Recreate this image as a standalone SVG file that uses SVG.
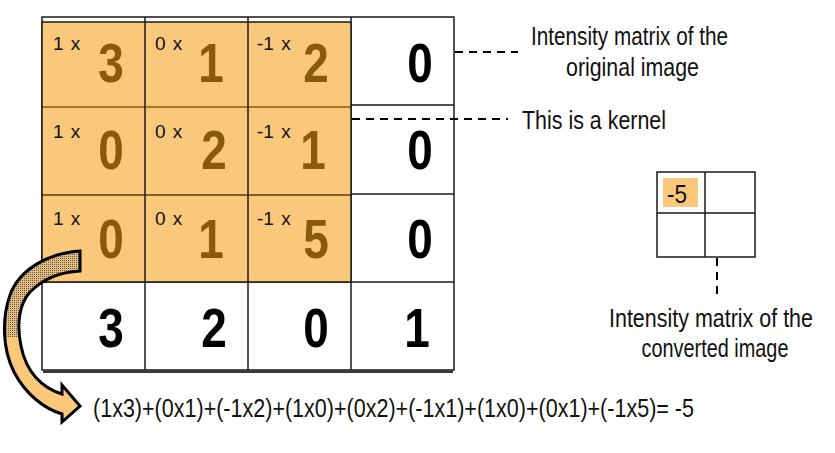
<svg xmlns="http://www.w3.org/2000/svg" width="835" height="453" viewBox="0 0 835 453">
<defs>
<style>
.grid{fill:none;stroke:#1a1a1a;stroke-width:1.5}
.ker{fill:#F9C87B}
.big{font-family:"Liberation Sans",Arial,sans-serif;font-weight:bold;font-size:56px;text-anchor:middle}
.kd{fill:#8A5A0C}
.wd{fill:#000}
.sm{font-family:"Liberation Sans",Arial,sans-serif;font-size:19px;fill:#111;word-spacing:2px}
.lbl{font-family:"Liberation Sans",Arial,sans-serif;font-size:26px;fill:#111}
.dash{stroke:#000;stroke-width:2;stroke-dasharray:8,6;fill:none}
</style>
<pattern id="dots" width="2" height="2" patternUnits="userSpaceOnUse">
<rect width="2" height="2" fill="#E0BC86"/>
<rect width="1" height="1" fill="#6E5838"/>
</pattern>
<clipPath id="arrowClip">
<path d="M80,251 C50,253 20,268 10,295 C2,318 2,348 14,372 C26,395 45,409 62,414 L62,422 L80,406 L62,385 L62,394 C42,388 26,372 21,346 C16,322 20,303 30,292 C42,280 60,272 80,271 Z"/>
</clipPath>
</defs>

<g id="image-matrix">
<rect x="42" y="17" width="412" height="353" fill="#fff" class="grid"/>
<line class="grid" x1="351" y1="105" x2="454" y2="105"/>
<line class="grid" x1="351" y1="194" x2="454" y2="194"/>
<line class="grid" x1="42" y1="282" x2="454" y2="282"/>
<line class="grid" x1="145" y1="17" x2="145" y2="370"/>
<line class="grid" x1="248" y1="17" x2="248" y2="370"/>
<line class="grid" x1="351" y1="17" x2="351" y2="370"/>
<line x1="43" y1="371.5" x2="453" y2="371.5" stroke="#3a3a3a" stroke-width="3"/>
<text class="big wd" transform="translate(420,82) scale(0.82,1)">0</text>
<text class="big wd" transform="translate(420,169) scale(0.82,1)">0</text>
<text class="big wd" transform="translate(420,258) scale(0.82,1)">0</text>
<text class="big wd" transform="translate(111,347) scale(0.82,1)">3</text>
<text class="big wd" transform="translate(214,347) scale(0.82,1)">2</text>
<text class="big wd" transform="translate(316,347) scale(0.82,1)">0</text>
<text class="big wd" transform="translate(417,347) scale(0.82,1)">1</text>
</g>

<g id="kernel">
<rect class="ker" x="42" y="22" width="309" height="260"/>
<line x1="42" y1="107" x2="351" y2="107" stroke="#8A5A0C" stroke-width="1.5"/>
<line x1="42" y1="195" x2="351" y2="195" stroke="#5a3c08" stroke-width="1.5"/>
<rect class="grid" x="42" y="22" width="309" height="260"/>
<line class="grid" x1="145" y1="22" x2="145" y2="282"/>
<line class="grid" x1="248" y1="22" x2="248" y2="282"/>
<text class="sm" x="53" y="50">1 x</text>
<text class="sm" x="155" y="50">0 x</text>
<text class="sm" x="257" y="50">-1 x</text>
<text class="sm" x="53" y="138">1 x</text>
<text class="sm" x="155" y="138">0 x</text>
<text class="sm" x="257" y="138">-1 x</text>
<text class="sm" x="53" y="225">1 x</text>
<text class="sm" x="155" y="225">0 x</text>
<text class="sm" x="257" y="225">-1 x</text>
<text class="big kd" transform="translate(111,82) scale(0.82,1)">3</text>
<text class="big kd" transform="translate(211,82) scale(0.82,1)">1</text>
<text class="big kd" transform="translate(316,82) scale(0.82,1)">2</text>
<text class="big kd" transform="translate(111,169) scale(0.82,1)">0</text>
<text class="big kd" transform="translate(214,169) scale(0.82,1)">2</text>
<text class="big kd" transform="translate(313,169) scale(0.82,1)">1</text>
<text class="big kd" transform="translate(111,258) scale(0.82,1)">0</text>
<text class="big kd" transform="translate(211,258) scale(0.82,1)">1</text>
<text class="big kd" transform="translate(316,258) scale(0.82,1)">5</text>
</g>

<g id="output-matrix">
<rect x="657" y="172" width="98" height="85" fill="#fff" class="grid"/>
<line class="grid" x1="705" y1="172" x2="705" y2="257"/>
<line class="grid" x1="657" y1="213" x2="755" y2="213"/>
<rect class="ker" x="663" y="178" width="35" height="29"/>
<text class="lbl" x="667" y="203" font-size="23" textLength="20" lengthAdjust="spacingAndGlyphs">-5</text>
</g>

<g id="label-original">
<text class="lbl" x="531" y="45" textLength="197" lengthAdjust="spacingAndGlyphs">Intensity matrix of the</text>
<text class="lbl" x="566" y="76" textLength="133" lengthAdjust="spacingAndGlyphs">original image</text>
</g>

<g id="label-kernel">
<text class="lbl" x="522" y="129" textLength="144" lengthAdjust="spacingAndGlyphs">This is a kernel</text>
</g>

<g id="label-output">
<text class="lbl" x="711" y="327" font-size="25" text-anchor="middle" textLength="204" lengthAdjust="spacingAndGlyphs">Intensity matrix of the</text>
<text class="lbl" x="715" y="357" font-size="25" text-anchor="middle" textLength="147" lengthAdjust="spacingAndGlyphs">converted image</text>
</g>

<g id="equation">
<text class="lbl" x="93" y="417" font-size="28" textLength="601" lengthAdjust="spacingAndGlyphs">(1x3)+(0x1)+(-1x2)+(1x0)+(0x2)+(-1x1)+(1x0)+(0x1)+(-1x5)= -5</text>
</g>

<g id="connectors">
<line class="dash" x1="455" y1="52" x2="518" y2="52"/>
<line class="dash" x1="352" y1="119" x2="508" y2="119"/>
<line class="dash" x1="717" y1="258" x2="717" y2="294"/>
<g id="curved-arrow">
<path d="M80,251 C50,253 20,268 10,295 C2,318 2,348 14,372 C26,395 45,409 62,414 L62,422 L80,406 L62,385 L62,394 C42,388 26,372 21,346 C16,322 20,303 30,292 C42,280 60,272 80,271 Z" fill="#F9C87B"/>
<rect x="0" y="240" width="90" height="97" fill="url(#dots)" clip-path="url(#arrowClip)"/>
<path d="M80,251 C50,253 20,268 10,295 C2,318 2,348 14,372 C26,395 45,409 62,414 L62,422 L80,406 L62,385 L62,394 C42,388 26,372 21,346 C16,322 20,303 30,292 C42,280 60,272 80,271 Z" fill="none" stroke="#000" stroke-width="3" stroke-linejoin="miter"/>
</g>
</g>
</svg>
